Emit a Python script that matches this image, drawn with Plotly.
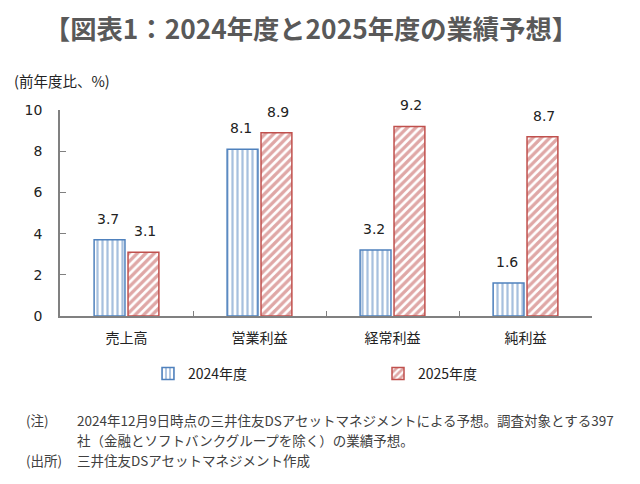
import plotly.graph_objects as go

categories = ["売上高", "営業利益", "経常利益", "純利益"]
fy2024 = [3.7, 8.1, 3.2, 1.6]
fy2025 = [3.1, 8.9, 9.2, 8.7]
series_names = ["2024年度", "2025年度"]
y_ticks = [0, 2, 4, 6, 8, 10]

BLUE = "#4F81BD"
RED = "#C0504D"
JP = "Noto Sans CJK JP"
NUM = "DejaVu Sans"

# page body has an 8px margin; work in screen pixels and convert
OFF = 8
W, H = 640 - 2 * OFF, 484 - 2 * OFF
# plot area in screen pixels: x 60..592, y 110..316
ML = 60 - OFF
MR = W - (592 - OFF)
MT = 110 - OFF
MB = H - (316 - OFF)
pw, ph = W - ML - MR, H - MT - MB

def px2paper(sx, sy):
    x, y = sx - OFF, sy - OFF
    return (x - ML) / pw, (H - MB - y) / ph

fig = go.Figure()
fig.add_trace(go.Bar(
    x=categories, y=fy2024, name=series_names[0],
    marker=dict(color="white", line=dict(color=BLUE, width=1.5),
                pattern=dict(shape="|", fgcolor=BLUE, bgcolor="white", size=5, solidity=0.45)),
))
fig.add_trace(go.Bar(
    x=categories, y=fy2025, name=series_names[1],
    marker=dict(color="white", line=dict(color=RED, width=1.5),
                pattern=dict(shape="/", fgcolor=RED, bgcolor="white", size=6, solidity=0.55)),
))

annotations = []
for vals, shift in ((fy2024, -18.5), (fy2025, 18.5)):
    for c, v in zip(categories, vals):
        annotations.append(dict(x=c, y=v, xref="x", yref="y", text=f"{v:.1f}",
                                showarrow=False, xshift=shift, yshift=21, yanchor="middle",
                                font=dict(family=NUM, size=14, color="#222222")))

ax, ay = px2paper(12, 80)
annotations.append(dict(x=ax, y=ay, xref="paper", yref="paper", text="(前年度比、%)",
                        showarrow=False, xanchor="left", yanchor="middle",
                        font=dict(family=JP, size=14.5, color="#222222")))

notes = [
    (24, 420, "(注)"),
    (75, 420, "2024年12月9日時点の三井住友DSアセットマネジメントによる予想。調査対象とする397"),
    (75, 440, "社（金融とソフトバンクグループを除く）の業績予想。"),
    (24, 460, "(出所)"),
    (75, 460, "三井住友DSアセットマネジメント作成"),
]
for x, y, t in notes:
    nx, ny = px2paper(x, y)
    annotations.append(dict(x=nx, y=ny, xref="paper", yref="paper", text=t, showarrow=False,
                            xanchor="left", yanchor="middle", align="left",
                            font=dict(family=JP, size=13.5, color="#404040")))

fig.update_layout(
    width=W, height=H,
    margin=dict(l=ML, r=MR, t=MT, b=MB, pad=0, autoexpand=False),
    paper_bgcolor="white", plot_bgcolor="white",
    title=dict(text="<b>【図表1：2024年度と2025年度の業績予想】</b>",
               x=(311 - OFF) / W, xanchor="center",
               y=1 - (30 - OFF) / H, yanchor="middle",
               font=dict(family=JP, size=26.3, color="#595959")),
    barmode="group", bargap=0.49, bargroupgap=0.09,
    showlegend=True,
    legend=dict(orientation="h", x=(148 - OFF) / W, y=1 - (374 - OFF) / H,
                xref="container", yref="container",
                xanchor="left", yanchor="middle",
                entrywidth=185, entrywidthmode="pixels",
                font=dict(family=JP, size=14, color="#222222"), itemwidth=30),
    annotations=annotations,
    xaxis=dict(showline=True, linecolor="#808080", linewidth=1.5, ticks="inside",
               tickson="boundaries", ticklen=5, tickcolor="#808080", showgrid=False,
               ticklabelstandoff=8,
               tickfont=dict(family=JP, size=14, color="#222222")),
    yaxis=dict(range=[0, 10], tickvals=y_ticks, showline=True, linecolor="#808080", linewidth=1.5,
               ticks="inside", ticklen=6, tickcolor="#808080", showgrid=False, zeroline=False,
               tickfont=dict(family=NUM, size=14, color="#222222"), ticklabelstandoff=13),
)
fig.write_html("out.html")
